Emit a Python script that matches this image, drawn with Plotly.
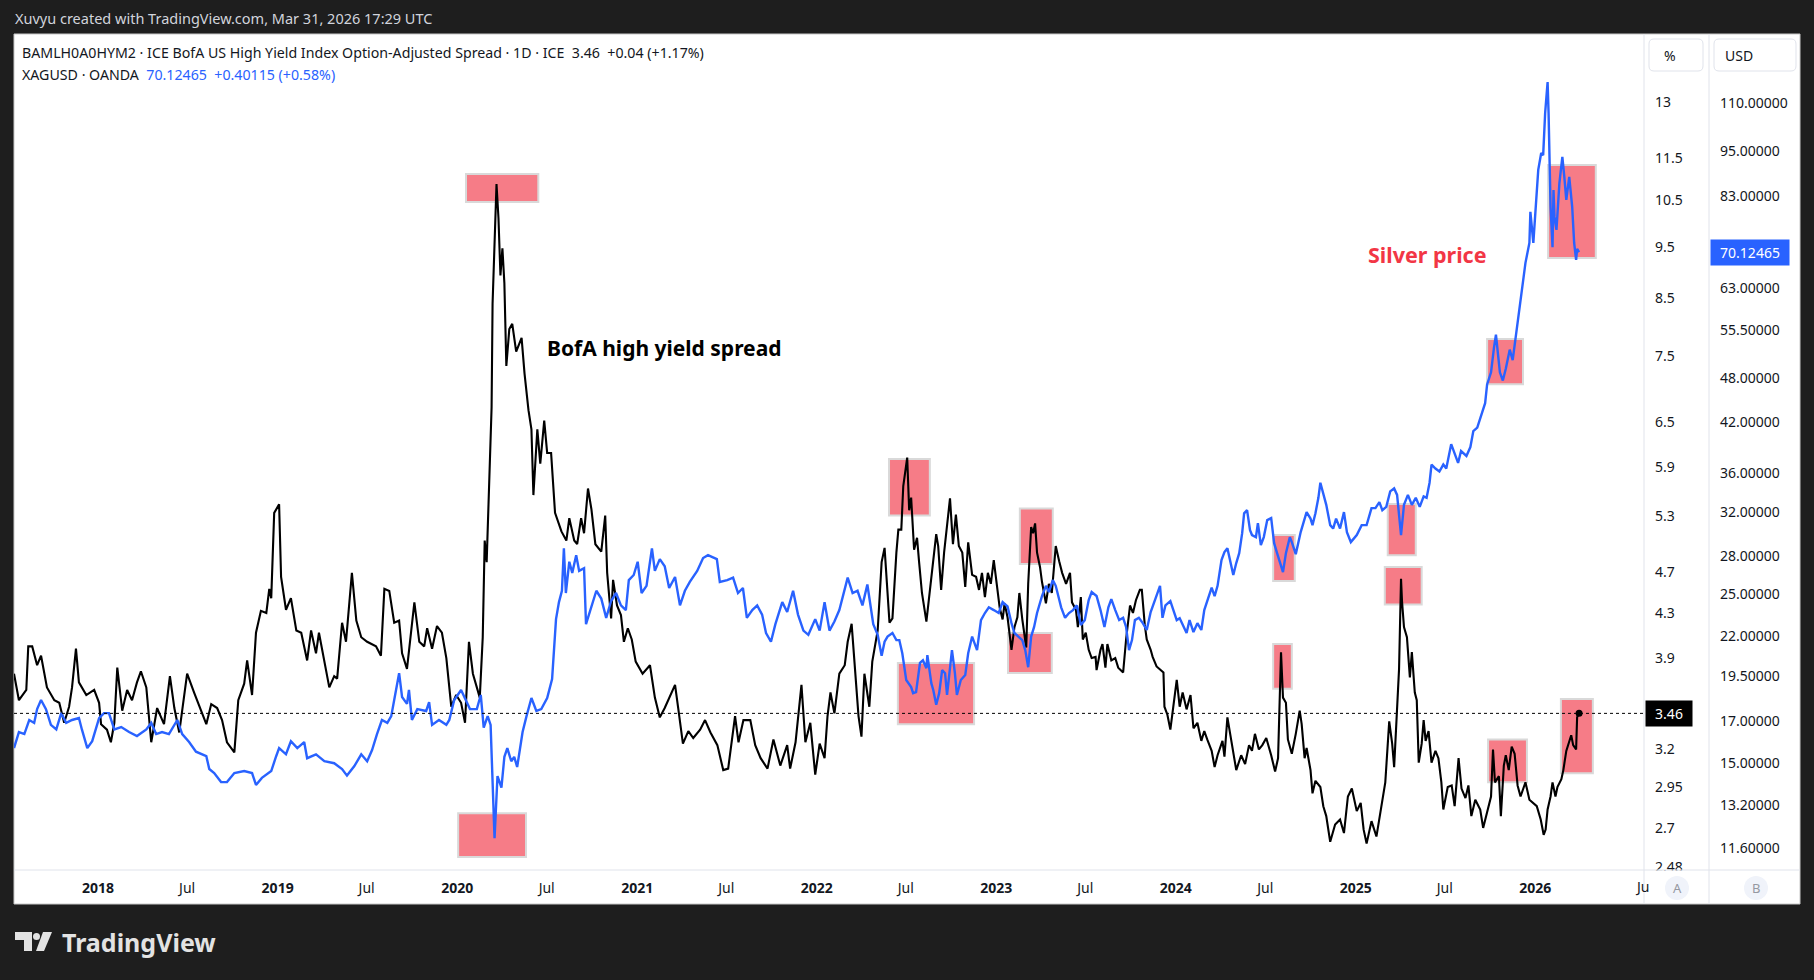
import math
import plotly.graph_objects as go

# --- BAMLH0A0HYM2 (ICE BofA US High Yield OAS, %) ---
spread_dates = [
    "2017-07-14", "2017-07-24", "2017-08-08", "2017-08-12", "2017-08-20", "2017-08-30", "2017-09-07", "2017-09-19",
    "2017-10-04", "2017-10-14", "2017-10-24", "2017-11-03", "2017-11-09", "2017-11-17", "2017-11-23", "2017-12-08",
    "2017-12-24", "2018-01-03", "2018-01-07", "2018-01-19", "2018-01-27", "2018-02-03", "2018-02-09", "2018-02-19",
    "2018-03-01", "2018-03-11", "2018-03-21", "2018-03-29", "2018-04-09", "2018-04-19", "2018-05-01", "2018-05-15",
    "2018-05-27", "2018-06-05", "2018-06-15", "2018-07-01", "2018-07-15", "2018-07-29", "2018-08-09", "2018-08-19",
    "2018-08-31", "2018-09-10", "2018-09-20", "2018-10-05", "2018-10-13", "2018-10-25", "2018-10-31", "2018-11-10",
    "2018-11-18", "2018-11-28", "2018-12-09", "2018-12-15", "2018-12-19", "2018-12-25", "2019-01-04", "2019-01-08",
    "2019-01-18", "2019-01-28", "2019-02-08", "2019-02-18", "2019-03-02", "2019-03-10", "2019-03-20", "2019-03-26",
    "2019-04-06", "2019-04-16", "2019-04-26", "2019-05-02", "2019-05-12", "2019-05-20", "2019-06-01", "2019-06-10",
    "2019-06-20", "2019-07-02", "2019-07-20", "2019-07-30", "2019-08-06", "2019-08-16", "2019-08-26", "2019-09-05",
    "2019-09-11", "2019-09-21", "2019-10-06", "2019-10-16", "2019-10-26", "2019-11-01", "2019-11-11", "2019-11-21",
    "2019-12-01", "2019-12-10", "2019-12-20", "2019-12-30", "2020-01-09", "2020-01-17", "2020-01-25", "2020-02-02",
    "2020-02-10", "2020-02-16", "2020-02-22", "2020-02-26", "2020-03-01", "2020-03-05", "2020-03-11", "2020-03-13",
    "2020-03-17", "2020-03-21", "2020-03-25", "2020-03-29", "2020-04-02", "2020-04-06", "2020-04-10", "2020-04-16",
    "2020-04-22", "2020-04-30", "2020-05-11", "2020-05-17", "2020-05-25", "2020-05-31", "2020-06-04", "2020-06-12",
    "2020-06-18", "2020-06-26", "2020-07-02", "2020-07-10", "2020-07-18", "2020-07-31", "2020-08-10", "2020-08-16",
    "2020-08-26", "2020-09-01", "2020-09-09", "2020-09-15", "2020-09-23", "2020-09-30", "2020-10-08", "2020-10-20",
    "2020-10-28", "2020-11-01", "2020-11-09", "2020-11-13", "2020-11-21", "2020-11-29", "2020-12-05", "2020-12-13",
    "2020-12-21", "2020-12-29", "2021-01-12", "2021-01-27", "2021-02-06", "2021-02-16", "2021-02-26", "2021-03-09",
    "2021-03-19", "2021-03-25", "2021-04-04", "2021-04-15", "2021-04-25", "2021-05-09", "2021-05-19", "2021-05-30",
    "2021-06-13", "2021-06-25", "2021-07-05", "2021-07-19", "2021-07-26", "2021-08-05", "2021-08-19", "2021-08-29",
    "2021-09-09", "2021-09-23", "2021-10-05", "2021-10-19", "2021-11-02", "2021-11-08", "2021-11-19", "2021-12-01",
    "2021-12-09", "2021-12-19", "2021-12-29", "2022-01-07", "2022-01-17", "2022-01-23", "2022-01-29", "2022-02-06",
    "2022-02-16", "2022-02-27", "2022-03-05", "2022-03-13", "2022-03-19", "2022-03-27", "2022-04-02", "2022-04-08",
    "2022-04-18", "2022-04-24", "2022-05-05", "2022-05-13", "2022-05-19", "2022-05-23", "2022-05-29", "2022-06-04",
    "2022-06-08", "2022-06-12", "2022-06-16", "2022-06-22", "2022-06-26", "2022-07-02", "2022-07-04", "2022-07-08",
    "2022-07-12", "2022-07-18", "2022-07-24", "2022-07-28", "2022-08-03", "2022-08-12", "2022-08-16", "2022-08-24",
    "2022-09-01", "2022-09-05", "2022-09-11", "2022-09-17", "2022-09-23", "2022-09-29", "2022-10-05", "2022-10-11",
    "2022-10-17", "2022-10-24", "2022-10-30", "2022-11-05", "2022-11-13", "2022-11-21", "2022-11-27", "2022-12-03",
    "2022-12-09", "2022-12-15", "2022-12-21", "2022-12-27", "2023-01-02", "2023-01-08", "2023-01-14", "2023-01-18",
    "2023-01-24", "2023-02-01", "2023-02-07", "2023-02-13", "2023-02-17", "2023-02-23", "2023-03-03", "2023-03-07",
    "2023-03-13", "2023-03-17", "2023-03-21", "2023-03-25", "2023-03-31", "2023-04-04", "2023-04-12", "2023-04-18",
    "2023-04-24", "2023-05-02", "2023-05-09", "2023-05-15", "2023-05-23", "2023-05-31", "2023-06-04", "2023-06-12",
    "2023-06-16", "2023-06-22", "2023-06-26", "2023-07-02", "2023-07-08", "2023-07-14", "2023-07-22", "2023-07-24",
    "2023-08-01", "2023-08-05", "2023-08-11", "2023-08-15", "2023-08-23", "2023-08-31", "2023-09-06", "2023-09-16",
    "2023-09-22", "2023-09-30", "2023-10-06", "2023-10-12", "2023-10-20", "2023-10-24", "2023-10-30", "2023-11-03",
    "2023-11-11", "2023-11-15", "2023-11-23", "2023-12-01", "2023-12-07", "2023-12-09", "2023-12-15", "2023-12-21",
    "2024-01-03", "2024-01-09", "2024-01-15", "2024-01-23", "2024-01-31", "2024-02-06", "2024-02-14", "2024-02-22",
    "2024-02-28", "2024-03-05", "2024-03-14", "2024-03-20", "2024-03-26", "2024-04-05", "2024-04-09", "2024-04-15",
    "2024-04-23", "2024-04-29", "2024-05-03", "2024-05-13", "2024-05-21", "2024-05-29", "2024-06-04", "2024-06-10",
    "2024-06-18", "2024-06-25", "2024-07-03", "2024-07-13", "2024-07-21", "2024-07-27", "2024-08-02", "2024-08-06",
    "2024-08-12", "2024-08-16", "2024-08-24", "2024-09-01", "2024-09-09", "2024-09-13", "2024-09-19", "2024-09-23",
    "2024-10-01", "2024-10-05", "2024-10-11", "2024-10-21", "2024-10-27", "2024-11-02", "2024-11-10", "2024-11-20",
    "2024-11-30", "2024-12-08", "2024-12-16", "2024-12-24", "2025-01-03", "2025-01-11", "2025-01-17", "2025-01-23",
    "2025-02-02", "2025-02-12", "2025-02-22", "2025-03-02", "2025-03-10", "2025-03-16", "2025-03-20", "2025-03-26",
    "2025-03-30", "2025-04-03", "2025-04-05", "2025-04-09", "2025-04-15", "2025-04-21", "2025-04-25", "2025-05-01",
    "2025-05-05", "2025-05-09", "2025-05-15", "2025-05-19", "2025-05-23", "2025-05-29", "2025-06-04", "2025-06-12",
    "2025-06-18", "2025-06-24", "2025-06-28", "2025-07-07", "2025-07-15", "2025-07-21", "2025-07-29", "2025-08-04",
    "2025-08-12", "2025-08-18", "2025-08-24", "2025-09-01", "2025-09-11", "2025-09-17", "2025-09-27", "2025-10-03",
    "2025-10-07", "2025-10-11", "2025-10-19", "2025-10-23", "2025-10-29", "2025-11-02", "2025-11-08", "2025-11-14",
    "2025-11-20", "2025-11-26", "2025-12-02", "2025-12-12", "2025-12-20", "2026-01-04", "2026-01-12", "2026-01-18",
    "2026-01-22", "2026-01-26", "2026-02-01", "2026-02-05", "2026-02-11", "2026-02-15", "2026-02-23", "2026-02-27",
    "2026-03-05", "2026-03-11", "2026-03-15", "2026-03-19", "2026-03-25", "2026-03-27", "2026-03-31",
]
spread_vals = [
    3.77, 3.56, 3.64, 4.00, 4.00, 3.84, 3.92, 3.66, 3.56, 3.54, 3.39, 3.51, 3.66, 3.98, 3.70, 3.60,
    3.64, 3.54, 3.38, 3.34, 3.25, 3.39, 3.82, 3.48, 3.64, 3.56, 3.70, 3.79, 3.66, 3.25, 3.50, 3.38,
    3.75, 3.50, 3.32, 3.77, 3.62, 3.48, 3.38, 3.53, 3.50, 3.41, 3.25, 3.18, 3.56, 3.69, 3.88, 3.60,
    4.12, 4.32, 4.30, 4.53, 4.44, 5.34, 5.44, 4.65, 4.33, 4.44, 4.14, 4.12, 3.88, 4.14, 3.94, 4.12,
    3.88, 3.66, 3.75, 3.73, 4.21, 4.04, 4.69, 4.23, 4.08, 4.04, 4.00, 3.92, 4.53, 4.51, 4.21, 4.23,
    3.94, 3.81, 4.40, 4.04, 4.00, 4.16, 3.98, 4.18, 4.12, 3.90, 3.51, 3.60, 3.54, 3.39, 4.04, 3.77,
    3.66, 3.58, 4.08, 5.03, 4.80, 5.61, 6.71, 8.40, 9.85, 10.88, 10.11, 8.93, 9.47, 8.78, 7.34, 7.95,
    8.04, 7.57, 7.80, 7.22, 6.67, 6.40, 5.55, 6.40, 5.94, 6.52, 6.08, 6.08, 5.34, 5.13, 5.03, 5.28,
    5.03, 4.99, 5.28, 5.11, 5.63, 5.38, 4.99, 4.91, 5.31, 4.69, 4.25, 4.62, 4.37, 4.28, 4.04, 4.16,
    4.06, 3.87, 3.77, 3.84, 3.58, 3.43, 3.50, 3.60, 3.68, 3.51, 3.24, 3.33, 3.28, 3.34, 3.41, 3.32,
    3.23, 3.06, 3.07, 3.44, 3.25, 3.41, 3.41, 3.23, 3.14, 3.07, 3.27, 3.09, 3.23, 3.07, 3.25, 3.68,
    3.25, 3.39, 3.03, 3.24, 3.14, 3.44, 3.62, 3.46, 3.77, 3.84, 4.04, 4.20, 3.82, 3.44, 3.29, 3.77,
    3.51, 3.87, 4.14, 4.80, 4.95, 4.65, 4.21, 4.25, 4.62, 4.90, 5.15, 5.15, 5.66, 5.95, 6.02, 5.37,
    5.52, 4.93, 5.06, 4.81, 4.49, 4.22, 4.39, 4.69, 5.10, 4.97, 4.52, 4.90, 5.18, 5.51, 4.99, 5.32,
    4.97, 4.90, 4.55, 5.01, 4.67, 4.65, 4.52, 4.69, 4.45, 4.69, 4.58, 4.82, 4.58, 4.35, 4.24, 4.39,
    4.26, 3.97, 4.17, 4.26, 4.49, 4.24, 3.99, 4.58, 5.18, 5.11, 5.22, 4.90, 4.75, 4.60, 4.39, 4.58,
    4.49, 4.97, 4.81, 4.69, 4.58, 4.69, 4.40, 4.33, 4.17, 4.45, 4.06, 4.12, 3.97, 3.90, 3.91, 3.80,
    3.97, 4.02, 3.82, 4.02, 3.88, 3.90, 3.82, 3.78, 4.06, 4.37, 4.30, 4.42, 4.52, 4.52, 4.19, 4.06,
    3.97, 3.91, 3.83, 3.80, 3.78, 3.51, 3.45, 3.34, 3.72, 3.51, 3.62, 3.49, 3.60, 3.35, 3.39, 3.26,
    3.33, 3.27, 3.19, 3.08, 3.16, 3.26, 3.15, 3.43, 3.26, 3.16, 3.06, 3.16, 3.10, 3.23, 3.19, 3.31,
    3.20, 3.23, 3.28, 3.16, 3.05, 3.14, 3.95, 3.58, 3.54, 3.27, 3.17, 3.31, 3.48, 3.38, 3.14, 3.21,
    3.06, 2.91, 2.99, 2.95, 2.83, 2.77, 2.62, 2.72, 2.75, 2.67, 2.89, 2.94, 2.80, 2.85, 2.69, 2.61,
    2.74, 2.65, 2.83, 2.98, 3.40, 3.24, 3.08, 3.52, 3.81, 4.63, 4.41, 4.17, 4.08, 3.74, 3.95, 3.62,
    3.56, 3.11, 3.24, 3.41, 3.26, 3.33, 3.11, 3.19, 3.14, 2.98, 2.81, 2.95, 2.96, 2.83, 3.14, 2.94,
    2.88, 2.96, 2.77, 2.87, 2.81, 2.70, 2.81, 2.89, 3.20, 2.98, 3.02, 2.77, 3.09, 3.16, 3.06, 3.22,
    3.17, 2.96, 2.89, 2.98, 2.87, 2.83, 2.75, 2.66, 2.69, 2.81, 2.89, 2.98, 2.89, 2.95, 3.00, 3.06,
    3.19, 3.26, 3.30, 3.23, 3.20, 3.43, 3.46,
]

# --- XAGUSD (silver, USD) ---
silver_dates = [
    "2017-07-14", "2017-07-24", "2017-08-04", "2017-08-14", "2017-08-24", "2017-08-30", "2017-09-07", "2017-09-17",
    "2017-09-27", "2017-10-08", "2017-10-18", "2017-10-28", "2017-11-09", "2017-11-23", "2017-11-29", "2017-12-10",
    "2017-12-20", "2018-01-03", "2018-01-13", "2018-01-23", "2018-02-03", "2018-02-17", "2018-03-05", "2018-03-21",
    "2018-04-09", "2018-04-19", "2018-04-29", "2018-05-11", "2018-05-25", "2018-06-11", "2018-06-21", "2018-07-05",
    "2018-07-19", "2018-08-09", "2018-08-15", "2018-08-25", "2018-09-08", "2018-09-20", "2018-10-05", "2018-10-25",
    "2018-11-10", "2018-11-18", "2018-11-30", "2018-12-19", "2018-12-29", "2019-01-04", "2019-01-18", "2019-01-28",
    "2019-02-10", "2019-02-24", "2019-03-02", "2019-03-20", "2019-04-06", "2019-04-26", "2019-05-12", "2019-05-22",
    "2019-06-06", "2019-06-20", "2019-07-02", "2019-07-12", "2019-07-22", "2019-08-01", "2019-08-12", "2019-08-20",
    "2019-08-26", "2019-09-05", "2019-09-11", "2019-09-21", "2019-09-25", "2019-10-01", "2019-10-12", "2019-10-30",
    "2019-11-05", "2019-11-11", "2019-11-25", "2019-12-10", "2019-12-16", "2019-12-26", "2020-01-09", "2020-01-21",
    "2020-01-27", "2020-02-10", "2020-02-18", "2020-02-24", "2020-03-03", "2020-03-09", "2020-03-13", "2020-03-17",
    "2020-03-23", "2020-03-31", "2020-04-06", "2020-04-12", "2020-04-20", "2020-04-26", "2020-05-02", "2020-05-13",
    "2020-05-21", "2020-05-31", "2020-06-10", "2020-06-20", "2020-07-02", "2020-07-12", "2020-07-20", "2020-07-26",
    "2020-08-01", "2020-08-05", "2020-08-09", "2020-08-16", "2020-08-22", "2020-08-30", "2020-09-05", "2020-09-15",
    "2020-09-19", "2020-09-30", "2020-10-10", "2020-10-20", "2020-10-30", "2020-11-09", "2020-11-19", "2020-11-29",
    "2020-12-09", "2020-12-15", "2020-12-25", "2021-01-02", "2021-01-10", "2021-01-20", "2021-01-31", "2021-02-06",
    "2021-02-16", "2021-02-26", "2021-03-07", "2021-03-19", "2021-03-29", "2021-04-08", "2021-04-18", "2021-05-03",
    "2021-05-15", "2021-05-25", "2021-06-12", "2021-06-18", "2021-07-03", "2021-07-15", "2021-07-25", "2021-08-04",
    "2021-08-12", "2021-08-23", "2021-09-02", "2021-09-12", "2021-09-20", "2021-09-30", "2021-10-09", "2021-10-23",
    "2021-11-02", "2021-11-14", "2021-11-24", "2021-12-05", "2021-12-15", "2021-12-29", "2022-01-07", "2022-01-17",
    "2022-01-27", "2022-02-06", "2022-02-16", "2022-03-05", "2022-03-15", "2022-03-25", "2022-04-04", "2022-04-14",
    "2022-04-26", "2022-05-05", "2022-05-13", "2022-05-19", "2022-05-25", "2022-06-04", "2022-06-12", "2022-06-18",
    "2022-06-24", "2022-07-02", "2022-07-12", "2022-07-16", "2022-07-22", "2022-07-30", "2022-08-05", "2022-08-12",
    "2022-08-14", "2022-08-22", "2022-08-26", "2022-09-01", "2022-09-07", "2022-09-13", "2022-09-19", "2022-09-23",
    "2022-10-03", "2022-10-09", "2022-10-13", "2022-10-21", "2022-10-30", "2022-11-05", "2022-11-13", "2022-11-23",
    "2022-12-01", "2022-12-09", "2022-12-17", "2022-12-27", "2023-01-06", "2023-01-14", "2023-01-24", "2023-02-01",
    "2023-02-07", "2023-02-15", "2023-02-23", "2023-03-01", "2023-03-07", "2023-03-13", "2023-03-19", "2023-03-25",
    "2023-04-04", "2023-04-12", "2023-04-18", "2023-04-26", "2023-05-02", "2023-05-13", "2023-05-21", "2023-05-29",
    "2023-06-06", "2023-06-14", "2023-06-22", "2023-06-30", "2023-07-08", "2023-07-14", "2023-07-24", "2023-08-01",
    "2023-08-09", "2023-08-17", "2023-08-23", "2023-08-31", "2023-09-08", "2023-09-16", "2023-09-22", "2023-09-28",
    "2023-10-04", "2023-10-10", "2023-10-18", "2023-10-26", "2023-11-03", "2023-11-11", "2023-11-19", "2023-11-30",
    "2023-12-05", "2023-12-11", "2023-12-21", "2024-01-03", "2024-01-09", "2024-01-17", "2024-01-23", "2024-01-29",
    "2024-02-06", "2024-02-14", "2024-02-22", "2024-02-28", "2024-03-05", "2024-03-14", "2024-03-20", "2024-03-26",
    "2024-04-03", "2024-04-09", "2024-04-15", "2024-04-21", "2024-04-27", "2024-05-03", "2024-05-09", "2024-05-15",
    "2024-05-19", "2024-05-25", "2024-05-31", "2024-06-04", "2024-06-12", "2024-06-16", "2024-06-22", "2024-06-28",
    "2024-07-05", "2024-07-13", "2024-07-19", "2024-07-25", "2024-08-02", "2024-08-06", "2024-08-12", "2024-08-20",
    "2024-08-24", "2024-09-01", "2024-09-11", "2024-09-17", "2024-09-23", "2024-10-01", "2024-10-05", "2024-10-11",
    "2024-10-17", "2024-10-21", "2024-10-27", "2024-11-02", "2024-11-10", "2024-11-16", "2024-11-22", "2024-11-30",
    "2024-12-08", "2024-12-14", "2024-12-22", "2025-01-03", "2025-01-13", "2025-01-23", "2025-02-02", "2025-02-10",
    "2025-02-18", "2025-02-24", "2025-03-04", "2025-03-12", "2025-03-20", "2025-03-26", "2025-04-03", "2025-04-09",
    "2025-04-17", "2025-04-25", "2025-05-03", "2025-05-11", "2025-05-19", "2025-05-25", "2025-05-31", "2025-06-04",
    "2025-06-12", "2025-06-20", "2025-06-28", "2025-07-04", "2025-07-14", "2025-07-22", "2025-07-28", "2025-08-03",
    "2025-08-14", "2025-08-22", "2025-08-28", "2025-09-05", "2025-09-13", "2025-09-21", "2025-09-25", "2025-10-03",
    "2025-10-09", "2025-10-13", "2025-10-21", "2025-10-27", "2025-11-02", "2025-11-10", "2025-11-16", "2025-11-22",
    "2025-11-30", "2025-12-06", "2025-12-12", "2025-12-20", "2025-12-22", "2025-12-28", "2026-01-03", "2026-01-07",
    "2026-01-13", "2026-01-17", "2026-01-21", "2026-01-26", "2026-01-28", "2026-02-01", "2026-02-05", "2026-02-07",
    "2026-02-09", "2026-02-13", "2026-02-19", "2026-02-25", "2026-03-01", "2026-03-05", "2026-03-11", "2026-03-17",
    "2026-03-21", "2026-03-25", "2026-03-27", "2026-03-31",
]
silver_vals = [
    15.69, 16.47, 16.37, 17.08, 16.93, 17.65, 18.14, 17.65, 16.83, 16.60, 17.44, 16.93, 17.08, 17.18, 16.60, 15.69,
    16.02, 17.18, 17.44, 17.44, 16.60, 16.72, 16.47, 16.27, 16.60, 16.93, 16.37, 16.47, 16.37, 17.08, 16.37, 15.98,
    15.52, 15.31, 14.73, 14.55, 14.16, 14.16, 14.55, 14.64, 14.55, 14.04, 14.34, 14.64, 15.31, 15.69, 15.40, 16.02,
    15.69, 15.98, 15.22, 15.40, 15.08, 14.99, 14.73, 14.44, 14.86, 15.40, 15.08, 15.60, 16.37, 17.08, 16.93, 17.28,
    18.14, 19.67, 18.31, 17.93, 18.70, 17.08, 17.65, 17.55, 18.03, 16.83, 17.08, 16.83, 17.08, 18.14, 18.70, 18.03,
    17.65, 17.65, 18.42, 16.69, 17.28, 16.83, 14.04, 11.95, 14.42, 13.93, 15.28, 15.69, 15.08, 15.28, 14.82, 16.47,
    17.28, 18.25, 17.55, 17.65, 18.25, 19.33, 23.16, 24.38, 25.23, 28.67, 25.06, 27.54, 26.63, 28.09, 26.79, 27.00,
    22.81, 24.14, 25.23, 24.64, 23.25, 24.46, 25.06, 24.14, 23.80, 26.06, 26.46, 27.54, 25.06, 25.61, 28.67, 26.79,
    27.76, 27.17, 25.44, 26.30, 24.14, 25.23, 25.91, 26.79, 27.85, 28.09, 27.76, 25.91, 26.06, 26.25, 25.06, 25.44,
    23.25, 23.80, 24.14, 23.48, 22.21, 21.63, 22.81, 24.38, 23.66, 25.23, 23.48, 22.37, 22.09, 23.16, 22.37, 24.38,
    22.37, 22.99, 23.80, 26.25, 25.06, 25.23, 24.14, 25.71, 22.81, 22.09, 20.74, 21.63, 21.97, 22.21, 21.74, 21.74,
    20.89, 19.27, 18.86, 18.52, 18.58, 20.29, 20.46, 19.97, 20.77, 19.09, 18.70, 17.88, 18.52, 19.85, 19.67, 18.42,
    21.09, 19.67, 18.42, 19.27, 19.56, 20.89, 21.97, 21.09, 23.09, 23.59, 24.00, 23.80, 23.59, 24.38, 24.06, 22.88,
    22.21, 21.97, 21.74, 21.09, 20.03, 21.97, 22.62, 23.59, 24.83, 25.61, 25.13, 26.06, 25.61, 24.00, 23.25, 23.59,
    23.80, 24.14, 22.75, 23.09, 24.53, 25.13, 24.83, 23.80, 22.62, 24.00, 24.60, 23.80, 23.09, 23.25, 22.62, 21.09,
    21.74, 23.09, 23.25, 22.88, 22.41, 23.66, 24.46, 25.61, 23.25, 24.14, 24.46, 23.09, 23.22, 22.62, 22.21, 23.09,
    22.27, 22.88, 22.41, 23.80, 24.53, 25.47, 24.83, 25.61, 27.68, 28.35, 28.69, 27.68, 26.46, 27.43, 28.26, 30.02,
    31.87, 32.18, 30.30, 29.85, 29.67, 30.95, 28.95, 29.67, 31.23, 31.42, 29.13, 28.26, 27.10, 26.69, 28.26, 29.67,
    29.22, 28.18, 30.12, 31.04, 31.99, 31.37, 30.76, 31.89, 33.40, 34.96, 33.70, 32.70, 30.76, 30.44, 31.37, 30.44,
    31.99, 30.12, 29.22, 29.85, 30.76, 30.76, 32.38, 32.38, 32.97, 32.18, 32.50, 34.06, 34.36, 33.70, 29.85, 32.70,
    33.70, 32.70, 33.40, 32.50, 33.55, 33.40, 34.96, 36.93, 36.49, 36.16, 36.93, 36.49, 39.28, 38.11, 37.11, 38.47,
    37.90, 38.93, 40.86, 41.29, 42.83, 44.45, 47.03, 48.79, 52.56, 54.66, 48.79, 47.59, 49.33, 52.24, 50.62, 54.16,
    58.90, 62.50, 67.90, 72.10, 79.20, 72.10, 81.30, 89.90, 94.60, 94.00, 106.70, 117.20, 106.70, 80.40, 71.20, 84.60,
    78.00, 75.00, 86.40, 93.50, 88.00, 82.10, 88.00, 80.40, 72.10, 68.50, 70.80, 70.12465,
]

# --- highlight boxes drawn on the chart (start, end, low, high, axis) ---
box_start = ["2020-01-19", "2020-01-03", "2022-05-28", "2022-06-15", "2023-02-18", "2023-01-25", "2024-07-17",
             "2024-07-17", "2025-03-01", "2025-03-07", "2025-09-27", "2025-09-25", "2026-02-22", "2026-01-27"]
box_end = ["2020-06-14", "2020-05-20", "2022-08-19", "2022-11-17", "2023-04-26", "2023-04-24", "2024-08-24",
           "2024-08-30", "2025-05-15", "2025-05-03", "2025-12-15", "2025-12-07", "2026-04-28", "2026-05-04"]
box_low = [10.47, 11.29, 5.31, 16.86, 4.78, 19.68, 3.65, 25.98, 4.38, 28.09, 2.98, 47.08, 3.04, 68.9]
box_high = [11.12, 12.89, 6.00, 20.29, 5.39, 22.21, 4.02, 29.86, 4.75, 32.78, 3.27, 53.95, 3.57, 91.2]
box_axis = ["y", "y2", "y", "y2", "y", "y2", "y", "y2", "y", "y2", "y", "y2", "y", "y2"]

# --- axes ---
x_ticks = ["2018-01-01", "2018-07-01", "2019-01-01", "2019-07-01", "2020-01-01", "2020-07-01", "2021-01-01",
           "2021-07-01", "2022-01-01", "2022-07-01", "2023-01-01", "2023-07-01", "2024-01-01", "2024-07-01",
           "2025-01-01", "2025-07-01", "2026-01-01"]
x_labels = ["<b>2018</b>", "Jul", "<b>2019</b>", "Jul", "<b>2020</b>", "Jul", "<b>2021</b>", "Jul", "<b>2022</b>",
            "Jul", "<b>2023</b>", "Jul", "<b>2024</b>", "Jul", "<b>2025</b>", "Jul", "<b>2026</b>"]
spread_ticks = [2.48, 2.7, 2.95, 3.2, 3.9, 4.3, 4.7, 5.3, 5.9, 6.5, 7.5, 8.5, 9.5, 10.5, 11.5, 13]
silver_ticks = [11.6, 13.2, 15, 17, 19.5, 22, 25, 28, 32, 36, 42, 48, 55.5, 63, 83, 95, 110]

W, H = 1814, 980
L, R, T, B = 14, 14, 34, 110
PW, PH = W - L - R, H - T - B
FONT = "Noto Sans"
INK = "#131722"
BLUE = "#2962ff"
DARK = "#1e1e1e"


def px(x):
    return (x - L) / PW


def py(y):
    return (H - B - y) / PH


def rounded(x0, y0, x1, y1, r):
    pts = [("M", x0 + r, y0), ("L", x1 - r, y0), ("Q", x1, y0, x1, y0 + r), ("L", x1, y1 - r),
           ("Q", x1, y1, x1 - r, y1), ("L", x0 + r, y1), ("Q", x0, y1, x0, y1 - r), ("L", x0, y0 + r),
           ("Q", x0, y0, x0 + r, y0)]
    out = ""
    for p in pts:
        coords = p[1:]
        pairs = [f"{px(coords[i]):.5f},{py(coords[i + 1]):.5f}" for i in range(0, len(coords), 2)]
        out += p[0] + " " + " ".join(pairs) + " "
    return out + "Z"


def poly(points):
    return "M " + " L ".join(f"{px(a):.5f},{py(b):.5f}" for a, b in points) + " Z"


fig = go.Figure()

fig.add_trace(go.Scatter(x=spread_dates, y=spread_vals, mode="lines", yaxis="y",
                         line=dict(color="#000000", width=2.1), hoverinfo="skip"))
fig.add_trace(go.Scatter(x=silver_dates, y=silver_vals, mode="lines", yaxis="y2",
                         line=dict(color=BLUE, width=2.4), hoverinfo="skip"))
fig.add_trace(go.Scatter(x=[spread_dates[-1]], y=[spread_vals[-1]], mode="markers", yaxis="y",
                         marker=dict(color="#000000", size=7), hoverinfo="skip"))

shapes = [
    # white chart panel
    dict(type="rect", xref="paper", yref="paper", x0=0, x1=1, y0=py(904), y1=1, layer="below",
         fillcolor="#ffffff", line=dict(color="#c8c8c8", width=1)),
    # time-scale strip under the price scales hides the lowest tick's lower half
    dict(type="rect", xref="paper", yref="paper", x0=px(1645), x1=px(1799), y0=py(903), y1=py(870.5),
         fillcolor="#ffffff", line=dict(width=0)),
    dict(type="line", xref="paper", yref="paper", x0=0, x1=1, y0=0, y1=0, line=dict(color="#e0e3eb", width=1)),
    dict(type="line", xref="paper", yref="paper", x0=px(1644), x1=px(1644), y0=py(904), y1=1,
         line=dict(color="#e0e3eb", width=1)),
    dict(type="line", xref="paper", yref="paper", x0=px(1709), x1=px(1709), y0=py(904), y1=1,
         line=dict(color="#e0e3eb", width=1)),
    # last value dotted line
    dict(type="line", xref="paper", yref="y", x0=0, x1=px(1644), y0=spread_vals[-1], y1=spread_vals[-1],
         line=dict(color="#000000", width=1, dash="dot")),
    # scale header boxes and A / B buttons
    dict(type="path", xref="paper", yref="paper", path=rounded(1649, 39, 1703, 71, 5),
         line=dict(color="#e0e3eb", width=1), fillcolor="#ffffff"),
    dict(type="path", xref="paper", yref="paper", path=rounded(1714, 39, 1796, 71, 5),
         line=dict(color="#e0e3eb", width=1), fillcolor="#ffffff"),
    dict(type="circle", xref="paper", yref="paper", x0=px(1665), x1=px(1689), y0=py(900), y1=py(876),
         fillcolor="#f0f3fa", line=dict(width=0)),
    dict(type="circle", xref="paper", yref="paper", x0=px(1744), x1=px(1768), y0=py(900), y1=py(876),
         fillcolor="#f0f3fa", line=dict(width=0)),
    # TradingView logo mark
    dict(type="path", xref="paper", yref="paper", fillcolor="#e3e3e3", line=dict(width=0),
         path=poly([(15, 932), (32, 932), (32, 951), (24, 951), (24, 940), (15, 940)])),
    dict(type="circle", xref="paper", yref="paper", x0=px(33), x1=px(40), y0=py(940), y1=py(933),
         fillcolor="#e3e3e3", line=dict(width=0)),
    dict(type="path", xref="paper", yref="paper", fillcolor="#e3e3e3", line=dict(width=0),
         path=poly([(43, 932), (52, 932), (44, 951), (36, 951)])),
]
for s, e, lo, hi, ax in zip(box_start, box_end, box_low, box_high, box_axis):
    shapes.append(dict(type="rect", xref="x", yref=ax, x0=s, x1=e, y0=lo, y1=hi, layer="below",
                       fillcolor="#f67c87", line=dict(color="#d9d9d9", width=2)))


def note(text, x, y, size=14, color=INK, anchor="left", **kw):
    return dict(text=text, xref="paper", yref="paper", x=px(x), y=py(y), xanchor=anchor, yanchor="middle",
                showarrow=False, font=dict(family=FONT, size=size, color=color), **kw)


annotations = [
    note("Xuvyu created with TradingView.com, Mar 31, 2026 17:29 UTC", 13, 18, 14.5, "#d1d4dc"),
    note("BAMLH0A0HYM2 · ICE BofA US High Yield Index Option-Adjusted Spread · 1D · ICE  3.46  +0.04 (+1.17%)",
         20, 53, 14.2),
    note(f"XAGUSD · OANDA  <span style='color:{BLUE}'>70.12465  +0.40115 (+0.58%)</span>", 20, 74, 14.2),
    note("<b>BofA high yield spread</b>", 545, 348, 21, "#000000"),
    note("<b>Silver price</b>", 1366, 255, 21.5, "#f23645"),
    note("%", 1662, 55, 14),
    note("USD", 1723, 55, 14),
    note("A", 1677, 888, 13, "#9598a1", anchor="center"),
    note("B", 1756, 888, 13, "#9598a1", anchor="center"),
    # next "Jul" label, cut off by the price scale
    note("Ju", 1633, 887, 14),
    note("<b>TradingView</b>", 60, 942, 25, "#e3e3e3"),
    # price scale labels (log axes take log10 positions for annotations)
    dict(text="3.46", xref="paper", yref="y", x=px(1645), y=math.log10(spread_vals[-1]), xanchor="left",
         yanchor="middle", showarrow=False, bgcolor="#000000", borderpad=3, width=40,
         font=dict(family=FONT, size=14, color="#ffffff")),
    dict(text="70.12465", xref="paper", yref="y2", x=px(1710), y=math.log10(silver_vals[-1]), xanchor="left",
         yanchor="middle", showarrow=False, bgcolor=BLUE, borderpad=3, width=72,
         font=dict(family=FONT, size=14, color="#ffffff")),
]

fig.update_layout(
    width=W, height=H,
    margin=dict(l=L, r=R, t=T, b=B),
    paper_bgcolor=DARK,
    plot_bgcolor="#ffffff",
    showlegend=False,
    font=dict(family=FONT, size=14, color=INK),
    xaxis=dict(type="date", domain=[0, px(1644)], range=["2017-07-14", "2026-08-10"],
               tickvals=x_ticks, ticktext=x_labels, showgrid=False, zeroline=False, showline=False,
               ticks="", ticklabelstandoff=8, tickfont=dict(size=14, color=INK)),
    yaxis=dict(type="log", range=[0.3918, 1.1778], anchor="free", position=px(1644), side="right",
               tickvals=spread_ticks, ticktext=[f"{v:g}" for v in spread_ticks], showgrid=False,
               zeroline=False, showline=False, ticks="", ticklabelstandoff=10,
               tickfont=dict(size=14, color=INK)),
    yaxis2=dict(type="log", range=[1.0358, 2.1319], overlaying="y", anchor="free", position=px(1709),
                side="right", tickvals=silver_ticks, ticktext=[f"{v:.5f}" for v in silver_ticks],
                showgrid=False, zeroline=False, showline=False, ticks="", ticklabelstandoff=10,
                tickfont=dict(size=14, color=INK)),
    shapes=shapes,
    annotations=annotations,
)

# page body margin would push the figure 8px off, so drop it
fig.write_html("out.html", config={"displayModeBar": False},
               post_script=f"document.body.style.margin='0';document.body.style.background='{DARK}';")
